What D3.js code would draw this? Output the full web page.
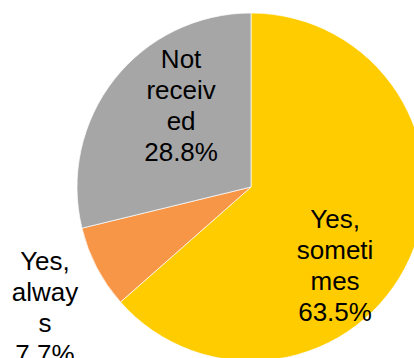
<!DOCTYPE html>
<meta charset="utf-8">
<style>
  body { margin: 0; background: #fff; }
  svg { display: block; }
</style>
<div id="chart"></div>
<script src="https://d3js.org/d3.v7.min.js"></script>
<script>

// data
var categories = ["Yes, sometimes", "Yes, always", "Not received"];
var values = [63.5, 7.7, 28.8];
var colors = ["#FFCC00", "#F79646", "#A6A6A6"];
// labels as wrapped in the original
var labelLines = [
  ["Yes,", "someti", "mes", "63.5%"],
  ["Yes,", "alway", "s", "7.7%"],
  ["Not", "receiv", "ed", "28.8%"]
];

var width = 414, height = 358;
var cx = 251, cy = 187, radius = 174;

var svg = d3.select("#chart")
  .append("svg")
    .attr("width", width)
    .attr("height", height);

var g = svg.append("g")
    .attr("transform", "translate(" + cx + "," + cy + ")");

var data = categories.map(function(c, i) { return {name: c, value: values[i], color: colors[i], lines: labelLines[i]}; });

var pie = d3.pie()
    .sort(null)
    .value(function(d) { return d.value; });

var arc = d3.arc()
    .innerRadius(0)
    .outerRadius(radius);

var arcs = pie(data);

g.selectAll("path")
  .data(arcs)
  .enter().append("path")
    .attr("d", arc)
    .attr("fill", function(d) { return d.data.color; })
    .attr("stroke", "#fff")
    .attr("stroke-width", 0.7);

// label placement: radius along mid angle, then a small nudge (best fit style)
var labelRadius = [112, 238, 108];
var nudge = [[-18, 32], [5, 10], [15, -15]];
var fontSize = 26, lineH = 31;

arcs.forEach(function(d, i) {
  var la = d3.arc().innerRadius(labelRadius[i]).outerRadius(labelRadius[i]);
  var c = la.centroid(d);
  var x = c[0] + nudge[i][0];
  var y = c[1] + nudge[i][1];
  var n = d.data.lines.length;
  var firstBase = y - (n - 1) * lineH / 2 + fontSize * 0.35;
  var t = g.append("text")
      .attr("text-anchor", "middle")
      .attr("font-family", "Liberation Sans, Arial, sans-serif")
      .attr("font-size", fontSize)
      .attr("fill", "#000");
  d.data.lines.forEach(function(s, j) {
    t.append("tspan")
      .attr("x", x)
      .attr("y", firstBase + j * lineH)
      .text(s);
  });
});

</script>
